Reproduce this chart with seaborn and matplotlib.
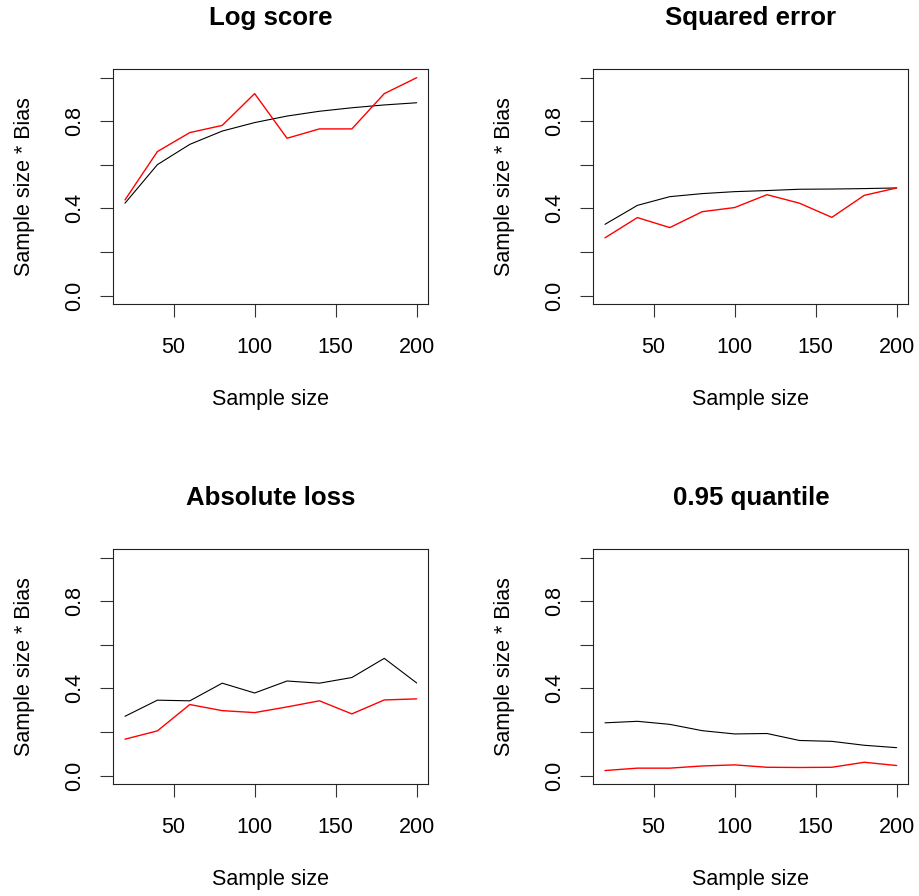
import numpy as np
import pandas as pd
import seaborn as sns
import matplotlib.pyplot as plt

sample_size = [20, 40, 60, 80, 100, 120, 140, 160, 180, 200]

titles = ['Log score', 'Squared error', 'Absolute loss', '0.95 quantile']

# black (theoretical) curves
black_vals = [
    [0.424, 0.601, 0.694, 0.755, 0.794, 0.824, 0.846, 0.862, 0.875, 0.885],
    [0.327, 0.414, 0.454, 0.468, 0.477, 0.482, 0.488, 0.489, 0.491, 0.494],
    [0.272, 0.346, 0.343, 0.424, 0.379, 0.434, 0.424, 0.450, 0.538, 0.425],
    [0.242, 0.249, 0.235, 0.206, 0.191, 0.193, 0.161, 0.157, 0.139, 0.128],
]

# red (simulated) curves
red_vals = [
    [0.439, 0.661, 0.748, 0.781, 0.927, 0.722, 0.765, 0.765, 0.927, 1.000],
    [0.265, 0.358, 0.312, 0.385, 0.404, 0.463, 0.424, 0.359, 0.460, 0.494],
    [0.167, 0.205, 0.326, 0.298, 0.289, 0.315, 0.343, 0.283, 0.347, 0.352],
    [0.023, 0.034, 0.034, 0.044, 0.049, 0.038, 0.037, 0.038, 0.061, 0.046],
]

y_ticks = [0.0, 0.2, 0.4, 0.6, 0.8, 1.0]
y_ticklabels = ['0.0', '', '0.4', '', '0.8', '']
x_ticks = [50, 100, 150, 200]


def main() -> None:
    sns.set_theme(style='white')
    plt.rcParams['font.family'] = ['Liberation Sans', 'DejaVu Sans']
    plt.rcParams['text.color'] = 'black'
    plt.rcParams['axes.labelcolor'] = 'black'
    plt.rcParams['xtick.color'] = 'black'
    plt.rcParams['ytick.color'] = 'black'

    fig = plt.figure(figsize=(9.19, 8.96), dpi=100)
    lefts = [0.1233, 0.6456, 0.1233, 0.6456]
    bottoms = [0.6604, 0.6604, 0.1247, 0.1247]

    for i in range(4):
        ax = fig.add_axes([lefts[i], bottoms[i], 0.3428, 0.2626])
        df = pd.DataFrame({'n': sample_size, 'black': black_vals[i], 'red': red_vals[i]})
        sns.lineplot(data=df, x='n', y='black', color='black', linewidth=0.8, ax=ax)
        sns.lineplot(data=df, x='n', y='red', color='red', linewidth=1.0, ax=ax)

        ax.set_xlim(12.8, 207.2)
        ax.set_ylim(-0.04, 1.04)
        ax.set_xticks(x_ticks)
        ax.set_xticklabels([str(t) for t in x_ticks])
        ax.set_yticks(y_ticks)
        ax.set_yticklabels(y_ticklabels, rotation=90, va='center')
        ax.tick_params(axis='both', direction='out', length=9.4, width=0.8,
                       color='#333333', labelcolor='black', labelsize=15.5,
                       bottom=True, left=True)
        ax.tick_params(axis='x', pad=14.5)
        ax.tick_params(axis='y', pad=11)
        for sp in ax.spines.values():
            sp.set_color('#222222')
            sp.set_linewidth(0.8)

        ax.set_xlabel('Sample size', fontsize=15.5, labelpad=22)
        ax.set_ylabel('Sample size * Bias', fontsize=15.5, labelpad=21)
        ax.set_title(titles[i], fontsize=18.6, fontweight='bold', pad=32)

    plt.savefig('out.png', dpi=100)


if __name__ == "__main__":
    main()
